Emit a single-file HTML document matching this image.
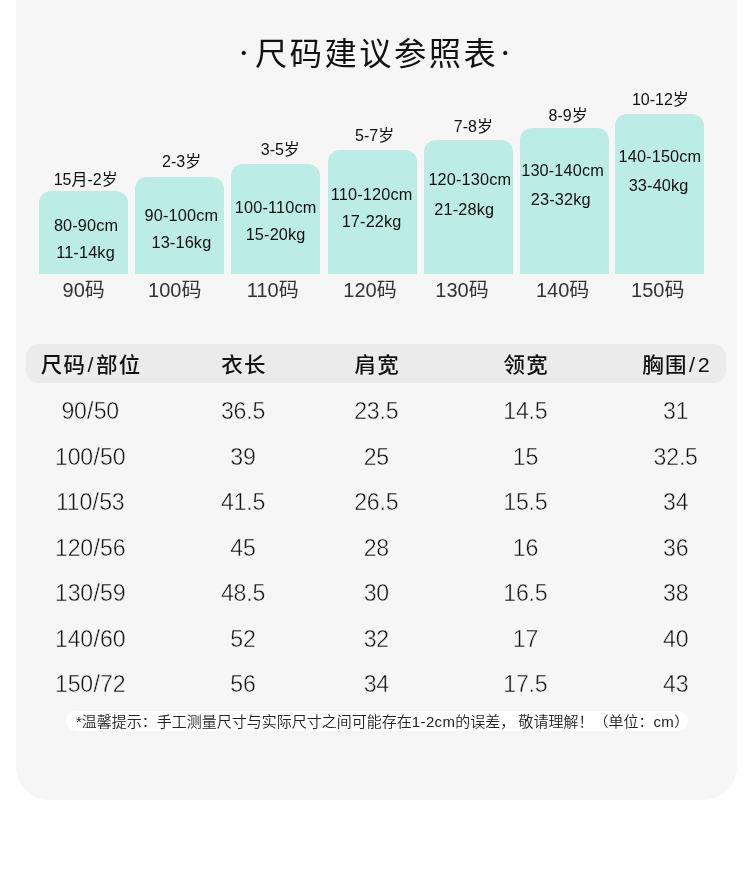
<!DOCTYPE html>
<html lang="zh-CN"><head><meta charset="utf-8"><title>尺码建议参照表</title>
<style>
html,body{margin:0;padding:0;background:#fff;}
body{width:750px;height:877px;position:relative;overflow:hidden;font-family:"Liberation Sans", "Noto Sans CJK SC", sans-serif;color:#111;}
.panel{position:absolute;left:16px;top:0;width:720.5px;height:800px;background:#f6f6f6;border-radius:0 0 33px 33px;}
.bar{position:absolute;background:#bcece6;border-radius:12px 12px 0 0;}
.t{position:absolute;white-space:nowrap;transform:translate(-50%,-50%);line-height:1;}
.title{transform:translate(-50%,-50%) scaleY(0.975);font-size:32.3px;letter-spacing:2.45px;font-weight:400;color:#111;}
.dot{font-family:"Liberation Serif","Noto Serif CJK SC",serif;font-size:36px;font-weight:400;}
.age{font-size:16px;font-weight:400;color:#111;}
.in{font-size:16.3px;letter-spacing:0.15px;font-weight:400;color:#111;}
.sz{font-size:20px;font-weight:400;color:#333;}
.hd{transform:translate(-50%,-50%) scaleY(0.97);font-size:21.5px;letter-spacing:1.2px;font-weight:500;color:#111;}
.sl{margin:0 1.4px;}
.la{letter-spacing:0.35px;}
.gap{margin-left:3.2px;}
.td{font-size:23.1px;font-weight:300;color:#111;-webkit-text-stroke:0.45px #f6f6f6;letter-spacing:-0.2px;}
.td .sl{margin:0 0.4px;}
.headpill{position:absolute;left:25.7px;top:343.9px;width:700.5px;height:38.9px;border-radius:13px;background:#ebebeb;}
.notepill{position:absolute;left:66.3px;top:711.3px;width:621.4px;height:20.1px;border-radius:10.1px;background:#fff;}
.note{position:absolute;left:76px;top:722px;transform:translate(0,-50%) scaleY(0.95);white-space:nowrap;line-height:1;font-size:15px;font-weight:350;color:#222;}
</style></head><body>
<div class="panel"></div>

<div class="t dot" style="left:243.7px;top:53.1px">·</div>
<div class="t title" style="left:376.7px;top:54.2px">尺码建议参照表</div>
<div class="t dot" style="left:505.3px;top:53.1px">·</div>
<div class="bar" style="left:39.1px;top:191.2px;width:89px;height:82.8px"></div>
<div class="bar" style="left:135.1px;top:177.2px;width:89px;height:96.8px"></div>
<div class="bar" style="left:231.0px;top:163.5px;width:89px;height:110.5px"></div>
<div class="bar" style="left:327.5px;top:150.1px;width:89px;height:123.9px"></div>
<div class="bar" style="left:423.7px;top:139.6px;width:89px;height:134.4px"></div>
<div class="bar" style="left:519.5px;top:128.1px;width:89px;height:145.9px"></div>
<div class="bar" style="left:615.3px;top:113.7px;width:89px;height:160.3px"></div>
<div class="t age" style="left:85.7px;top:180.4px">15月-2岁</div>
<div class="t in" style="left:86.1px;top:225.3px">80-90cm</div>
<div class="t in" style="left:85.5px;top:252.1px">11-14kg</div>
<div class="t sz" style="left:83.7px;top:290px">90码</div>
<div class="t age" style="left:181.7px;top:162.4px">2-3岁</div>
<div class="t in" style="left:181.4px;top:214.9px">90-100cm</div>
<div class="t in" style="left:181.4px;top:242.2px">13-16kg</div>
<div class="t sz" style="left:174.8px;top:290px">100码</div>
<div class="t age" style="left:280.3px;top:150.4px">3-5岁</div>
<div class="t in" style="left:275.6px;top:207.1px">100-110cm</div>
<div class="t in" style="left:275.6px;top:234.0px">15-20kg</div>
<div class="t sz" style="left:272.7px;top:290px">110码</div>
<div class="t age" style="left:374.6px;top:136.0px">5-7岁</div>
<div class="t in" style="left:371.6px;top:193.6px">110-120cm</div>
<div class="t in" style="left:371.6px;top:220.6px">17-22kg</div>
<div class="t sz" style="left:370px;top:290px">120码</div>
<div class="t age" style="left:473.4px;top:126.9px">7-8岁</div>
<div class="t in" style="left:469.8px;top:179.4px">120-130cm</div>
<div class="t in" style="left:464.2px;top:209.1px">21-28kg</div>
<div class="t sz" style="left:462px;top:290px">130码</div>
<div class="t age" style="left:568.2px;top:115.9px">8-9岁</div>
<div class="t in" style="left:562.6px;top:170.2px">130-140cm</div>
<div class="t in" style="left:560.8px;top:198.9px">23-32kg</div>
<div class="t sz" style="left:562.6px;top:290px">140码</div>
<div class="t age" style="left:660.4px;top:100.4px">10-12岁</div>
<div class="t in" style="left:659.9px;top:155.6px">140-150cm</div>
<div class="t in" style="left:658.6px;top:185.0px">33-40kg</div>
<div class="t sz" style="left:657.8px;top:290px">150码</div>
<div class="headpill"></div>
<div class="t hd" style="left:91.10000000000001px;top:366.1px">尺码<span class="sl">/</span>部位</div>
<div class="t hd" style="left:243.9px;top:366.1px">衣长</div>
<div class="t hd" style="left:377.2px;top:366.1px">肩宽</div>
<div class="t hd" style="left:526.3px;top:366.1px">领宽</div>
<div class="t hd" style="left:676.6px;top:366.1px">胸围<span class="sl">/</span>2</div>
<div class="t td" style="left:90.2px;top:412.1px">90<span class="sl">/</span>50</div>
<div class="t td" style="left:243px;top:412.1px">36.5</div>
<div class="t td" style="left:376.3px;top:412.1px">23.5</div>
<div class="t td" style="left:525.4px;top:412.1px">14.5</div>
<div class="t td" style="left:675.7px;top:412.1px">31</div>
<div class="t td" style="left:90.2px;top:457.5px">100<span class="sl">/</span>50</div>
<div class="t td" style="left:243px;top:457.5px">39</div>
<div class="t td" style="left:376.3px;top:457.5px">25</div>
<div class="t td" style="left:525.4px;top:457.5px">15</div>
<div class="t td" style="left:675.7px;top:457.5px">32.5</div>
<div class="t td" style="left:90.2px;top:502.9px">110<span class="sl">/</span>53</div>
<div class="t td" style="left:243px;top:502.9px">41.5</div>
<div class="t td" style="left:376.3px;top:502.9px">26.5</div>
<div class="t td" style="left:525.4px;top:502.9px">15.5</div>
<div class="t td" style="left:675.7px;top:502.9px">34</div>
<div class="t td" style="left:90.2px;top:548.8px">120<span class="sl">/</span>56</div>
<div class="t td" style="left:243px;top:548.8px">45</div>
<div class="t td" style="left:376.3px;top:548.8px">28</div>
<div class="t td" style="left:525.4px;top:548.8px">16</div>
<div class="t td" style="left:675.7px;top:548.8px">36</div>
<div class="t td" style="left:90.2px;top:593.9px">130<span class="sl">/</span>59</div>
<div class="t td" style="left:243px;top:593.9px">48.5</div>
<div class="t td" style="left:376.3px;top:593.9px">30</div>
<div class="t td" style="left:525.4px;top:593.9px">16.5</div>
<div class="t td" style="left:675.7px;top:593.9px">38</div>
<div class="t td" style="left:90.2px;top:639.7px">140<span class="sl">/</span>60</div>
<div class="t td" style="left:243px;top:639.7px">52</div>
<div class="t td" style="left:376.3px;top:639.7px">32</div>
<div class="t td" style="left:525.4px;top:639.7px">17</div>
<div class="t td" style="left:675.7px;top:639.7px">40</div>
<div class="t td" style="left:90.2px;top:684.8px">150<span class="sl">/</span>72</div>
<div class="t td" style="left:243px;top:684.8px">56</div>
<div class="t td" style="left:376.3px;top:684.8px">34</div>
<div class="t td" style="left:525.4px;top:684.8px">17.5</div>
<div class="t td" style="left:675.7px;top:684.8px">43</div>
<div class="notepill"></div>
<div class="note">*温馨提示：手工测量尺寸与实际尺寸之间可能存在<span class="la">1-2cm</span>的误差，<span class="gap">敬</span>请理解！（单位：<span class="la">cm</span>）</div>
</body></html>
